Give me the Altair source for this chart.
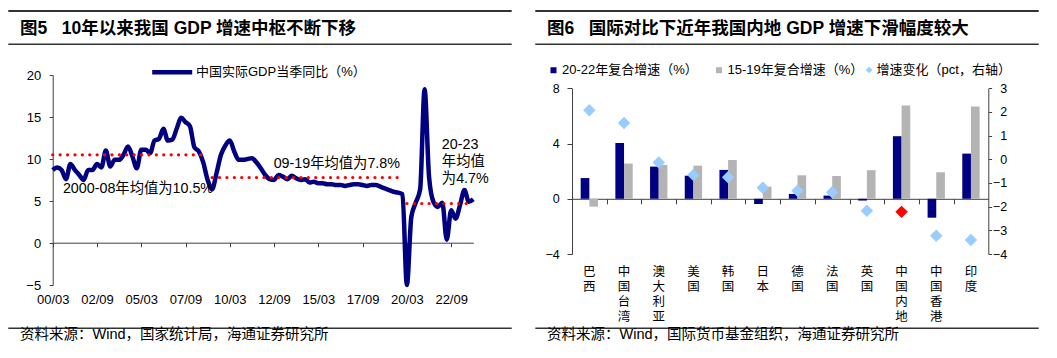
import altair as alt
import pandas as pd

W, H = 1041, 342
FONT = "Liberation Sans, Noto Sans CJK SC"
NAVY = "#000080"
GREY = "#B4B4B4"
LBLUE = "#99CCFF"
RED = "#FF0000"
AX = "#404040"

# ---------------- Figure 5 data ----------------
gdp_yoy = [8.7, 9.0, 8.7, 7.6,
           9.4, 8.7, 8.1, 7.5,
           8.7, 8.7, 9.4, 9.0,
           11.0, 9.1, 9.9, 9.9,
           10.5, 11.5, 10.3, 8.9,
           11.1, 11.1, 10.7, 12.2,
           12.4, 13.6, 12.2, 12.3,
           13.6, 14.9, 14.4, 13.9,
           11.4, 10.9, 9.6, 7.5,
           6.4, 8.3, 10.5, 11.6,
           12.2, 10.9, 9.9, 9.9,
           10.0, 10.1, 9.6, 8.9,
           8.1, 7.6, 7.5, 8.1,
           7.9, 7.6, 8.0, 7.7,
           7.5, 7.6, 7.2, 7.3,
           7.1, 7.1, 7.0, 7.0,
           6.9, 6.9, 6.8, 6.9,
           7.0, 7.0, 6.9, 6.8,
           6.9, 6.9, 6.7, 6.5,
           6.3, 6.1, 6.0, 5.8,
           -6.8, 3.1, 4.8, 6.4,
           18.3, 7.9, 4.9, 4.3,
           4.8, 0.4, 3.9, 2.9,
           4.5, 6.3, 4.9, 5.2]
quarter_index = list(range(len(gdp_yoy)))          # 2000Q1 ... 2023Q4
gdp_series = "中国实际GDP当季同比（%）"
x_tick_pos = [0, 10, 20, 30, 40, 50, 60, 70, 80, 90]
x_tick_labels = ["00/03", "02/09", "05/03", "07/09", "10/03",
                 "12/09", "15/03", "17/09", "20/03", "22/09"]
mean_start = [0, 36, 80]
mean_end = [34, 78, 95]
mean_value = [10.5, 7.8, 4.7]
ann_text = ["2000-08年均值为10.5%", "09-19年均值为7.8%", "20-23\n年均值\n为4.7%"]
ann_q = [2.3, 49.9, 87.9]
ann_v = [6.4, 9.4, 11.65]

# ---------------- Figure 6 data ----------------
countries = ["巴西", "中国台湾", "澳大利亚", "美国", "韩国", "日本",
             "德国", "法国", "英国", "中国内地", "中国香港", "印度"]
growth_2022 = [1.5, 4.04, 2.33, 1.67, 2.09, -0.38, 0.35, 0.23, -0.13, 4.53, -1.37, 3.27]
growth_1519 = [-0.57, 2.55, 2.45, 2.4, 2.81, 0.88, 1.7, 1.65, 2.07, 6.75, 1.92, 6.68]
growth_change = [2.07, 1.53, -0.13, -0.66, -0.76, -1.2, -1.33, -1.39, -2.17, -2.22, -3.23, -3.41]
bar_series = ["20-22年复合增速（%）", "15-19年复合增速（%）"]
chg_series = "增速变化（pct，右轴）"
highlight = "中国内地"

NB = "\u00a0"
titles = ["图5" + NB * 3 + "10年以来我国 GDP 增速中枢不断下移",
          "图6" + NB * 3 + "国际对比下近年我国内地 GDP 增速下滑幅度较大"]
sources = ["资料来源：Wind，国家统计局，海通证券研究所",
           "资料来源：Wind，国际货币基金组织，海通证券研究所"]

# ---------------- tables ----------------
gdp_df = pd.DataFrame({"q": quarter_index, "v": gdp_yoy, "s": gdp_series})
mean_df = pd.DataFrame({"q0": mean_start, "q1": mean_end, "v": mean_value})
ann_df = pd.DataFrame({"q": ann_q, "v": ann_v, "t": ann_text})
bar_df = pd.DataFrame({
    "country": countries * 2,
    "series": [bar_series[0]] * len(countries) + [bar_series[1]] * len(countries),
    "value": growth_2022 + growth_1519,
})
chg_df = pd.DataFrame({
    "country": countries,
    "change": growth_change,
    "kind": [highlight if c == highlight else chg_series for c in countries],
})
one = pd.DataFrame({"a": [0]})

# ---------------- left panel ----------------
xq = alt.Scale(domain=[0, 95], range=[44.7, 465.3], nice=False)
yq = alt.Scale(domain=[-5, 20], range=[277, 67], nice=False, clamp=True)
lab_expr = "[" + ",".join("'%s'" % s for s in x_tick_labels) + "][round(datum.value/10)]"

line = alt.Chart(gdp_df).mark_line(interpolate="monotone", strokeWidth=4.5).encode(
    x=alt.X("q:Q", scale=xq, axis=alt.Axis(
        orient="bottom", offset=-65, values=x_tick_pos, labelExpr=lab_expr,
        ticks=False, tickSize=0, domain=False, grid=False, labelPadding=8.5,
        labelFontSize=13, labelColor="black", labelFlush=False, labelOverlap=False,
        title=None)),
    y=alt.Y("v:Q", scale=yq, axis=alt.Axis(
        orient="left", offset=-44.7, values=[-5, 0, 5, 10, 15, 20], tickSize=3.5,
        labelPadding=8.5, grid=False, domainColor=AX, tickColor=AX,
        labelFontSize=13, labelColor="black", title=None)),
    color=alt.Color("s:N", scale=alt.Scale(range=[NAVY]), legend=alt.Legend(
        orient="none", legendX=141.7, legendY=41.7, title=None, symbolType="stroke",
        symbolSize=1600, symbolStrokeWidth=4.5, labelFontSize=13, labelColor="black",
        labelOffset=1.3, padding=0, labelLimit=0)),
)

means = alt.Chart(mean_df).mark_rule(color=RED, strokeWidth=3.2, strokeDash=[0.1, 7.3],
                                     strokeCap="round").encode(
    x=alt.X("q0:Q", scale=xq, axis=alt.Axis(
        orient="bottom", offset=-107.3, values=x_tick_pos, labels=False, tickSize=4,
        domain=True, grid=False, domainColor=AX, tickColor=AX, title=None)),
    x2="q1:Q",
    y=alt.Y("v:Q", scale=yq, axis=None),
)

ann = alt.Chart(ann_df).mark_text(align="left", baseline="middle", fontSize=14.3,
                                  lineHeight=16.7, lineBreak="\n", color="black").encode(
    x=alt.X("q:Q", scale=xq, axis=None),
    y=alt.Y("v:Q", scale=yq, axis=None),
    text="t:N",
)

# ---------------- right panel ----------------
xb = alt.Scale(type="band", domain=countries, range=[564, 980.3],
               paddingInner=0.5, paddingOuter=0.25)
yb = alt.Scale(domain=[-4, 8], range=[246, 80.3], nice=False)
yr = alt.Scale(domain=[-4, 3], range=[246, 80.3], nice=False)

bars = alt.Chart(bar_df).mark_bar().encode(
    x=alt.X("country:N", scale=xb, sort=countries, axis=alt.Axis(
        orient="bottom", offset=-96, labelAngle=0, labelExpr="split(datum.label, '')",
        labelLineHeight=15, ticks=False, tickSize=0, domain=False, grid=False,
        labelPadding=11, labelFontSize=12.5, labelBaseline="top", labelColor="black",
        title=None)),
    xOffset=alt.XOffset("series:N", sort=bar_series, scale=alt.Scale(domain=bar_series)),
    y=alt.Y("value:Q", scale=yb, axis=alt.Axis(
        orient="left", offset=-564, values=[-4, 0, 4, 8], tickSize=5, labelPadding=7.7,
        grid=False, domainColor=AX, tickColor=AX, labelFontSize=12.5,
        labelColor="black", title=None)),
    color=alt.Color("series:N", scale=alt.Scale(domain=bar_series, range=[NAVY, GREY]),
                    legend=alt.Legend(
        orient="none", legendX=539, legendY=55.5, direction="horizontal", title=None,
        symbolType="square", symbolSize=36, symbolStrokeWidth=0, labelFontSize=13,
        labelColor="black", labelOffset=2, columnPadding=14.5, padding=0, labelLimit=0)),
)

pts = alt.Chart(chg_df).mark_point(shape="diamond", filled=True, size=155, opacity=1).encode(
    x=alt.X("country:N", scale=xb, sort=countries, axis=alt.Axis(
        orient="bottom", offset=-151.2, labels=False, tickSize=5, domain=True,
        bandPosition=0, tickOffset=-8.67, grid=False, domainColor=AX, tickColor=AX,
        title=None)),
    y=alt.Y("change:Q", scale=yr, axis=alt.Axis(
        orient="right", offset=-60.7, values=[-4, -3, -2, -1, 0, 1, 2, 3], tickSize=3.3,
        labelAlign="right", labelPadding=15, grid=False, domainColor=AX, tickColor=AX,
        labelFontSize=12.5, labelColor="black", title=None)),
    color=alt.Color("kind:N", scale=alt.Scale(domain=[chg_series, highlight],
                                              range=[LBLUE, RED]),
                    legend=alt.Legend(
        values=[chg_series], orient="none", legendX=854.6, legendY=55.5, title=None,
        symbolType="diamond", symbolSize=45, symbolStrokeWidth=0, labelFontSize=13,
        labelColor="black", labelOffset=1, padding=0, labelLimit=0)),
)

# ---------------- headers & footers ----------------
def hline(x0, x1, y, w):
    return alt.Chart(one).mark_rule(color="#333333", strokeWidth=w).encode(
        x=alt.value(x0), x2=alt.value(x1), y=alt.value(y))

def label(txt, x, y, size, bold=False):
    return alt.Chart(one).mark_text(align="left", baseline="middle", fontSize=size,
                                    fontWeight="bold" if bold else "normal",
                                    color="black").encode(
        x=alt.value(x), y=alt.value(y), text=alt.value(txt))

decor = [
    hline(0.3, 503.7, 3, 2), hline(0.3, 503.7, 36.3, 1.5), hline(0.3, 503.7, 320.3, 1.5),
    hline(527.3, 1030.7, 3, 2), hline(527.3, 1030.7, 36.3, 1.5), hline(527.3, 1030.7, 320.3, 1.5),
    label(titles[0], 12, 21.3, 17.5, True), label(titles[1], 539, 21.3, 17.5, True),
    label(sources[0], 12, 327.3, 14.5), label(sources[1], 539, 327.3, 14.5),
]

chart = alt.layer(line, means, ann, bars, pts, *decor).resolve_scale(
    x="independent", y="independent", color="independent"
).resolve_axis(x="independent", y="independent").resolve_legend(color="independent").properties(
    width=W, height=H, padding=0, autosize=alt.AutoSizeParams(type="none"),
    background="white"
).configure(font=FONT).configure_view(stroke=None)

chart.save("out.html", embed_options={"renderer": "svg", "actions": False})
